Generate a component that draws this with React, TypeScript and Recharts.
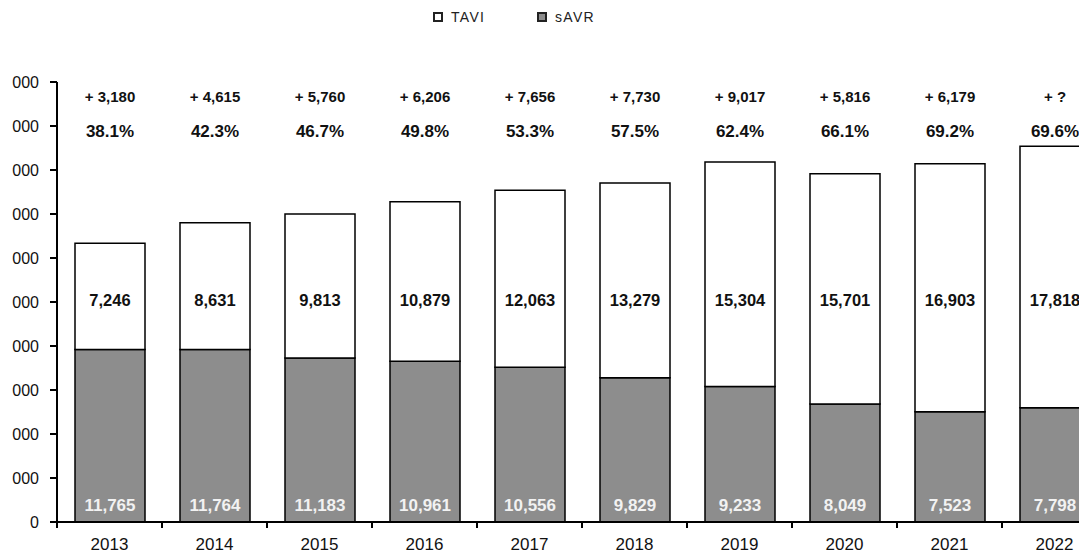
import React from "react";
import { BarChart, Bar, XAxis, YAxis, LabelList } from "recharts";

const years = ["2013", "2014", "2015", "2016", "2017", "2018", "2019", "2020", "2021", "2022"];
const savr = [11765, 11764, 11183, 10961, 10556, 9829, 9233, 8049, 7523, 7798];
const tavi = [7246, 8631, 9813, 10879, 12063, 13279, 15304, 15701, 16903, 17818];
const increments = ["+ 3,180", "+ 4,615", "+ 5,760", "+ 6,206", "+ 7,656", "+ 7,730", "+ 9,017", "+ 5,816", "+ 6,179", "+ ?"];
const shares = ["38.1%", "42.3%", "46.7%", "49.8%", "53.3%", "57.5%", "62.4%", "66.1%", "69.2%", "69.6%"];
const yTicks = [0, 3000, 6000, 9000, 12000, 15000, 18000, 21000, 24000, 27000, 30000];
const seriesNames = { tavi: "TAVI", savr: "sAVR" };

const data = years.map((year, i) => ({ year, savr: savr[i], tavi: tavi[i] }));

const FONT = '"Liberation Sans", Arial, sans-serif';
const GRAY = "#8d8d8d";
const PLOT_TOP = 82;
const X_AXIS_H = 32;
const CHART_H = 554;
const PLOT_BOTTOM = CHART_H - X_AXIS_H;
const BAND = 105;

const fmt = (v: number) => v.toLocaleString("en-US");

function TaviLabels(props: any) {
  const { x, width, index } = props;
  const cx = x + width / 2;
  return (
    <g fontFamily={FONT} fontWeight="bold" fill="#111" textAnchor="middle">
      <text x={cx} y={PLOT_TOP + 20} fontSize={15}>{increments[index]}</text>
      <text x={cx} y={PLOT_TOP + 55} fontSize={17}>{shares[index]}</text>
      <text x={cx} y={PLOT_TOP + 224} fontSize={16.5}>{fmt(tavi[index])}</text>
    </g>
  );
}

function SavrLabel(props: any) {
  const { x, width, y, height, index } = props;
  return (
    <text
      x={x + width / 2}
      y={y + height - 11}
      textAnchor="middle"
      fontFamily={FONT}
      fontWeight="bold"
      fontSize={17}
      fill="#f2f2f2"
    >
      {fmt(savr[index])}
    </text>
  );
}

function YearTick(props: any) {
  const { x, payload } = props;
  return (
    <g>
      <line x1={x - BAND / 2} y1={PLOT_BOTTOM} x2={x - BAND / 2} y2={PLOT_BOTTOM + 6} stroke="#000" strokeWidth={2} />
      <text x={x} y={PLOT_BOTTOM + 28} textAnchor="middle" fontFamily={FONT} fontSize={17} fill="#111">
        {payload.value}
      </text>
    </g>
  );
}

function LegendBox() {
  const item = (fill: string, label: string, left: number) => (
    <div style={{ position: "absolute", left, top: 9, display: "flex", alignItems: "center", height: 16 }}>
      <span
        style={{
          display: "inline-block",
          width: 6,
          height: 6,
          border: "2px solid #222",
          background: fill,
          marginRight: 8,
        }}
      />
      <span style={{ fontFamily: FONT, fontSize: 14, color: "#222", letterSpacing: 1.3 }}>{label}</span>
    </div>
  );
  return (
    <>
      {item("#fff", seriesNames.tavi, 433)}
      {item(GRAY, seriesNames.savr, 537)}
    </>
  );
}

export default function App() {
  return (
    <div
      style={{
        position: "fixed",
        left: 0,
        top: 0,
        width: 1079,
        height: 554,
        overflow: "hidden",
        background: "#fff",
      }}
    >
      {/* the source image is cropped on the left, so clip from x=12 */}
      <div style={{ position: "absolute", left: 12, top: 0, width: 1067, height: 554, overflow: "hidden" }}>
        <div style={{ position: "absolute", left: -52, top: 0 }}>
          <BarChart
            width={1160}
            height={CHART_H}
            data={data}
            margin={{ top: PLOT_TOP, right: 13, left: 37, bottom: 0 }}
            barSize={70}
          >
            <XAxis
              dataKey="year"
              height={X_AXIS_H}
              tickLine={false}
              axisLine={{ stroke: "#000", strokeWidth: 2 }}
              tick={<YearTick />}
              interval={0}
            />
            <YAxis
              width={60}
              domain={[0, 30000]}
              ticks={yTicks}
              interval={0}
              tickFormatter={fmt}
              tickSize={7}
              tickMargin={11}
              tickLine={{ stroke: "#000", strokeWidth: 2 }}
              axisLine={{ stroke: "#000", strokeWidth: 2 }}
              tick={{ fontFamily: FONT, fontSize: 16, fill: "#111" }}
            />
            <Bar dataKey="savr" name={seriesNames.savr} stackId="a" fill={GRAY} stroke="#000" strokeWidth={1.5} isAnimationActive={false}>
              <LabelList dataKey="savr" content={<SavrLabel />} />
            </Bar>
            <Bar dataKey="tavi" name={seriesNames.tavi} stackId="a" fill="#fff" stroke="#000" strokeWidth={1.5} isAnimationActive={false}>
              <LabelList dataKey="tavi" content={<TaviLabels />} />
            </Bar>
          </BarChart>
        </div>
      </div>
      <LegendBox />
    </div>
  );
}
